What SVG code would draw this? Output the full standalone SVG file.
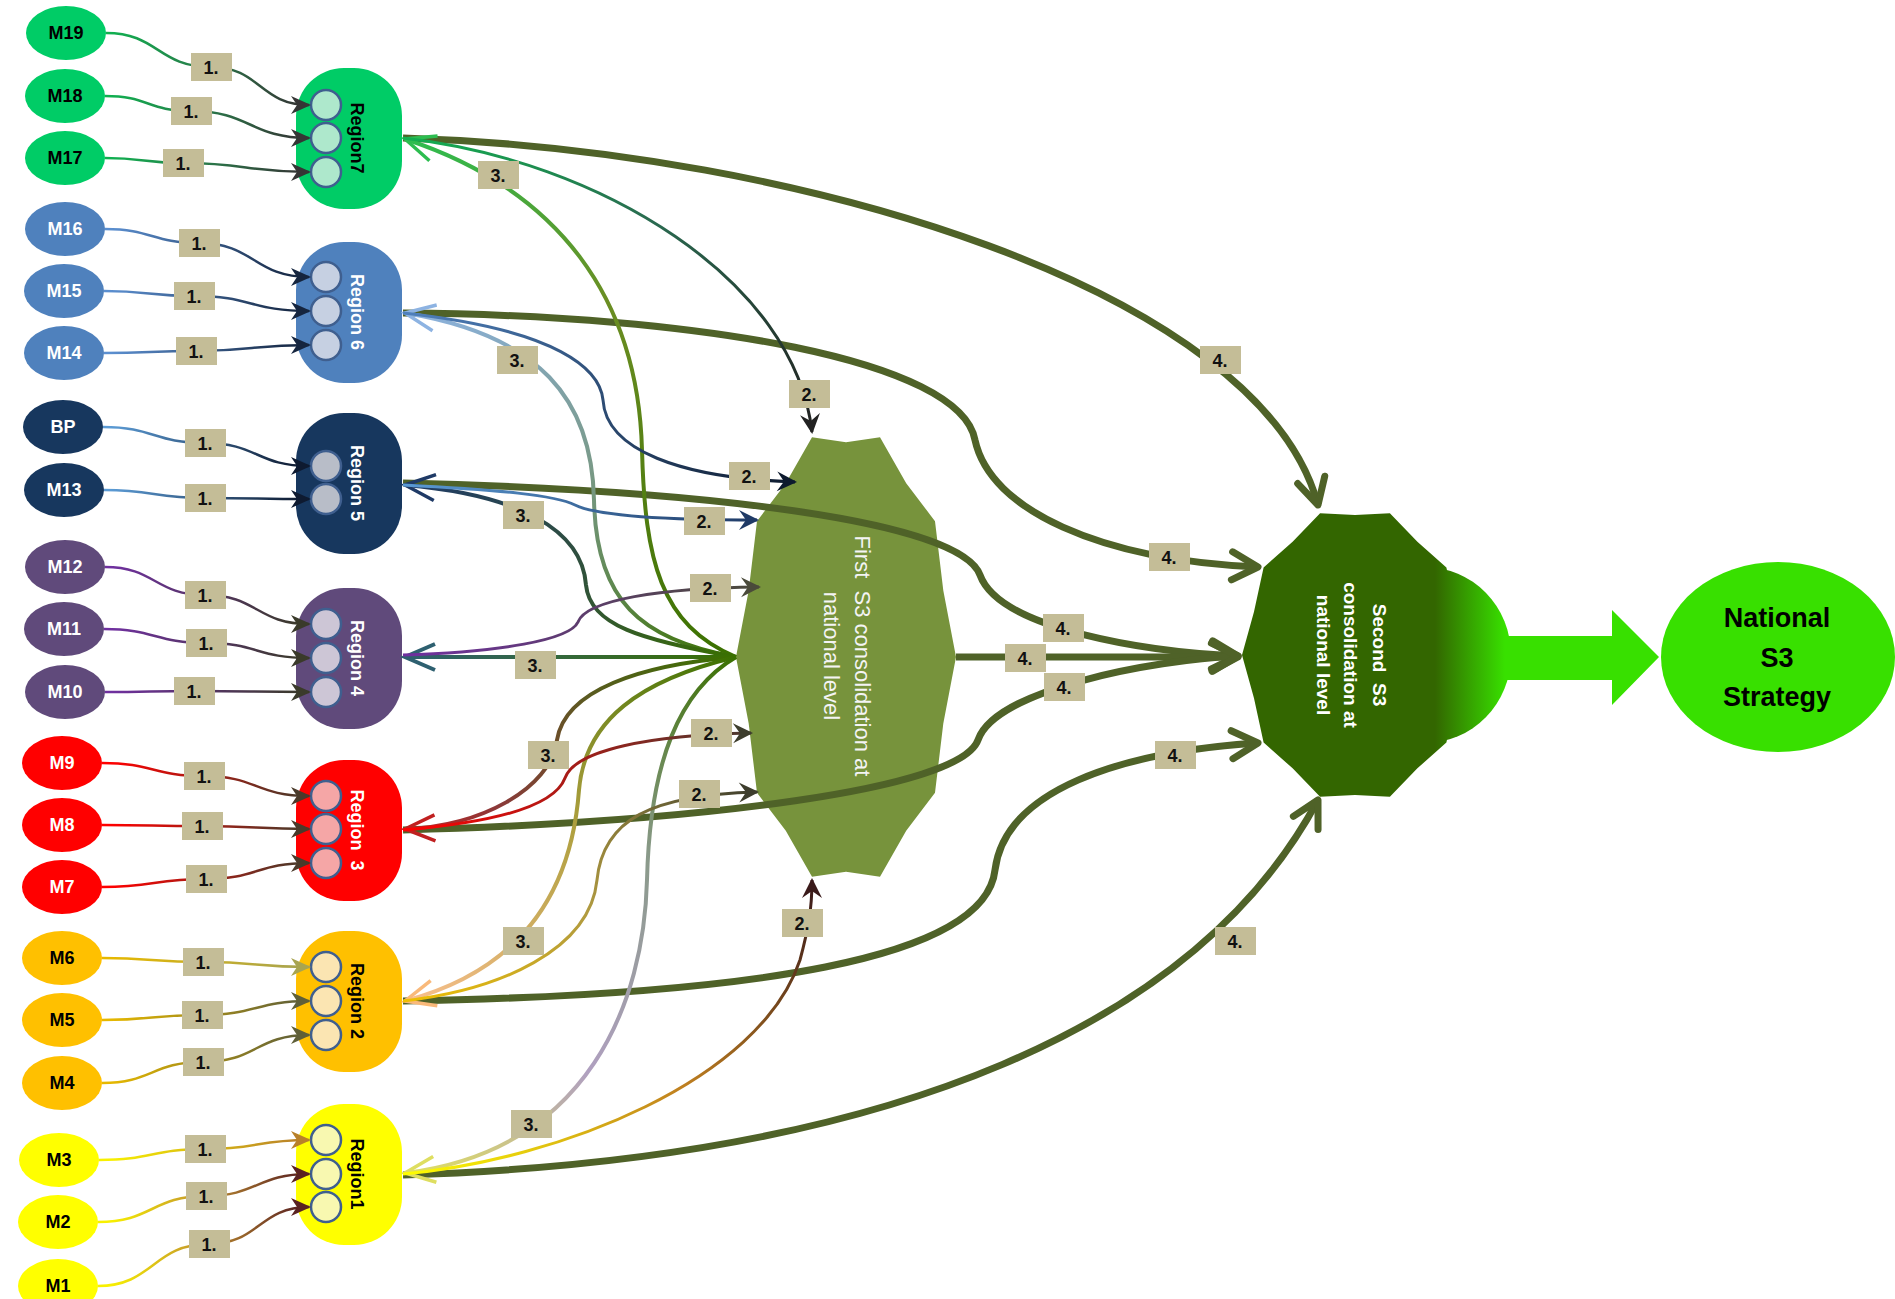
<svg xmlns="http://www.w3.org/2000/svg" width="1895" height="1299" viewBox="0 0 1895 1299">
<defs>
<style>
.mn text{font-family:"Liberation Sans",Arial,sans-serif;font-weight:bold;font-size:18px;text-anchor:middle}
.rg text{font-family:"Liberation Sans",Arial,sans-serif;font-weight:bold;font-size:18px;text-anchor:middle}
.rg circle{stroke:#3f5f8f;stroke-width:2.5}
.lb rect{fill:#c4bd97}
.lb text{font-family:"Liberation Sans",Arial,sans-serif;font-weight:bold;font-size:18px;text-anchor:middle;fill:#111}
.c1{fill:none;stroke-width:2.5}
.c2{fill:none;stroke-width:3}
.c3{fill:none;stroke-width:4}
.c4{fill:none;stroke:#4f6228;stroke-width:7;marker-end:url(#a4)}
</style>
<marker id="a4" markerUnits="userSpaceOnUse" markerWidth="1" markerHeight="1" orient="auto" overflow="visible"><path d="M-26,-14 L0,0 L-26,14" fill="none" stroke="#4f6228" stroke-width="7" stroke-linecap="round" stroke-linejoin="round"/></marker>
<marker id="s7" markerUnits="userSpaceOnUse" markerWidth="1" markerHeight="1" orient="auto" overflow="visible"><path d="M2,0 L-18,-9 L-12,0 L-18,9 Z" fill="#353535"/></marker>
<marker id="s6" markerUnits="userSpaceOnUse" markerWidth="1" markerHeight="1" orient="auto" overflow="visible"><path d="M2,0 L-18,-9 L-12,0 L-18,9 Z" fill="#15253f"/></marker>
<marker id="s5" markerUnits="userSpaceOnUse" markerWidth="1" markerHeight="1" orient="auto" overflow="visible"><path d="M2,0 L-18,-9 L-12,0 L-18,9 Z" fill="#0e1a30"/></marker>
<marker id="s4" markerUnits="userSpaceOnUse" markerWidth="1" markerHeight="1" orient="auto" overflow="visible"><path d="M2,0 L-18,-9 L-12,0 L-18,9 Z" fill="#3a3a2a"/></marker>
<marker id="s3" markerUnits="userSpaceOnUse" markerWidth="1" markerHeight="1" orient="auto" overflow="visible"><path d="M2,0 L-18,-9 L-12,0 L-18,9 Z" fill="#4a3a2a"/></marker>
<marker id="s2" markerUnits="userSpaceOnUse" markerWidth="1" markerHeight="1" orient="auto" overflow="visible"><path d="M2,0 L-18,-9 L-12,0 L-18,9 Z" fill="#5f5f38"/></marker>
<marker id="s2b" markerUnits="userSpaceOnUse" markerWidth="1" markerHeight="1" orient="auto" overflow="visible"><path d="M2,0 L-18,-9 L-12,0 L-18,9 Z" fill="#a8a450"/></marker>
<marker id="s1" markerUnits="userSpaceOnUse" markerWidth="1" markerHeight="1" orient="auto" overflow="visible"><path d="M2,0 L-18,-9 L-12,0 L-18,9 Z" fill="#5a2222"/></marker>
<marker id="s1b" markerUnits="userSpaceOnUse" markerWidth="1" markerHeight="1" orient="auto" overflow="visible"><path d="M2,0 L-18,-9 L-12,0 L-18,9 Z" fill="#b8802a"/></marker>
<marker id="t7" markerUnits="userSpaceOnUse" markerWidth="1" markerHeight="1" orient="auto" overflow="visible"><path d="M2,0 L-18,-10 L-11,0 L-18,10 Z" fill="#222"/></marker>
<marker id="t6" markerUnits="userSpaceOnUse" markerWidth="1" markerHeight="1" orient="auto" overflow="visible"><path d="M2,0 L-18,-10 L-11,0 L-18,10 Z" fill="#0d1a2e"/></marker>
<marker id="t5" markerUnits="userSpaceOnUse" markerWidth="1" markerHeight="1" orient="auto" overflow="visible"><path d="M2,0 L-18,-10 L-11,0 L-18,10 Z" fill="#1f3a66"/></marker>
<marker id="t4" markerUnits="userSpaceOnUse" markerWidth="1" markerHeight="1" orient="auto" overflow="visible"><path d="M2,0 L-18,-10 L-11,0 L-18,10 Z" fill="#4a4a3a"/></marker>
<marker id="t3" markerUnits="userSpaceOnUse" markerWidth="1" markerHeight="1" orient="auto" overflow="visible"><path d="M2,0 L-18,-10 L-11,0 L-18,10 Z" fill="#3d3d2d"/></marker>
<marker id="t1" markerUnits="userSpaceOnUse" markerWidth="1" markerHeight="1" orient="auto" overflow="visible"><path d="M2,0 L-18,-10 L-11,0 L-18,10 Z" fill="#3a1a1a"/></marker>
<marker id="v7" markerUnits="userSpaceOnUse" markerWidth="1" markerHeight="1" orient="auto" overflow="visible"><path d="M-30,-13 L0,0 L-30,13" fill="none" stroke="#2dbd50" stroke-width="3.5"/></marker>
<marker id="v6" markerUnits="userSpaceOnUse" markerWidth="1" markerHeight="1" orient="auto" overflow="visible"><path d="M-30,-13 L0,0 L-30,13" fill="none" stroke="#8db3e2" stroke-width="3.5"/></marker>
<marker id="v5" markerUnits="userSpaceOnUse" markerWidth="1" markerHeight="1" orient="auto" overflow="visible"><path d="M-30,-13 L0,0 L-30,13" fill="none" stroke="#1f3a66" stroke-width="3.5"/></marker>
<marker id="v4" markerUnits="userSpaceOnUse" markerWidth="1" markerHeight="1" orient="auto" overflow="visible"><path d="M-30,-13 L0,0 L-30,13" fill="none" stroke="#2e6070" stroke-width="4"/></marker>
<marker id="v3" markerUnits="userSpaceOnUse" markerWidth="1" markerHeight="1" orient="auto" overflow="visible"><path d="M-30,-13 L0,0 L-30,13" fill="none" stroke="#c02020" stroke-width="3.5"/></marker>
<marker id="v2" markerUnits="userSpaceOnUse" markerWidth="1" markerHeight="1" orient="auto" overflow="visible"><path d="M-30,-13 L0,0 L-30,13" fill="none" stroke="#f9b97a" stroke-width="3.5"/></marker>
<marker id="v1" markerUnits="userSpaceOnUse" markerWidth="1" markerHeight="1" orient="auto" overflow="visible"><path d="M-30,-13 L0,0 L-30,13" fill="none" stroke="#dede60" stroke-width="3.5"/></marker>

<linearGradient id="g1_7" gradientUnits="userSpaceOnUse" x1="110" y1="0" x2="300" y2="0"><stop offset="0" stop-color="#10b050"/><stop offset="0.5" stop-color="#2a7a4a"/><stop offset="1" stop-color="#353535"/></linearGradient>
<linearGradient id="g1_6" gradientUnits="userSpaceOnUse" x1="110" y1="0" x2="300" y2="0"><stop offset="0" stop-color="#5b8fd0"/><stop offset="1" stop-color="#15253f"/></linearGradient>
<linearGradient id="g1_5" gradientUnits="userSpaceOnUse" x1="110" y1="0" x2="300" y2="0"><stop offset="0" stop-color="#5b9bd5"/><stop offset="1" stop-color="#0e1a30"/></linearGradient>
<linearGradient id="g1_4" gradientUnits="userSpaceOnUse" x1="110" y1="0" x2="300" y2="0"><stop offset="0" stop-color="#7030a0"/><stop offset="1" stop-color="#3a3a2a"/></linearGradient>
<linearGradient id="g1_3" gradientUnits="userSpaceOnUse" x1="110" y1="0" x2="300" y2="0"><stop offset="0" stop-color="#ff0000"/><stop offset="1" stop-color="#4a3a2a"/></linearGradient>
<linearGradient id="g1_2" gradientUnits="userSpaceOnUse" x1="110" y1="0" x2="300" y2="0"><stop offset="0" stop-color="#e6b800"/><stop offset="1" stop-color="#5f5f38"/></linearGradient>
<linearGradient id="g1_2b" gradientUnits="userSpaceOnUse" x1="110" y1="0" x2="300" y2="0"><stop offset="0" stop-color="#e6b800"/><stop offset="1" stop-color="#a8a450"/></linearGradient>
<linearGradient id="g1_1" gradientUnits="userSpaceOnUse" x1="110" y1="0" x2="300" y2="0"><stop offset="0" stop-color="#f8f000"/><stop offset="0.5" stop-color="#c09030"/><stop offset="1" stop-color="#5a2222"/></linearGradient>
<linearGradient id="g1_1b" gradientUnits="userSpaceOnUse" x1="110" y1="0" x2="300" y2="0"><stop offset="0" stop-color="#f8f000"/><stop offset="1" stop-color="#b8802a"/></linearGradient>

<linearGradient id="g2_7" gradientUnits="userSpaceOnUse" x1="403" y1="138" x2="812" y2="433"><stop offset="0" stop-color="#12b050"/><stop offset="0.5" stop-color="#2a6a50"/><stop offset="1" stop-color="#222"/></linearGradient>
<linearGradient id="g2_6" gradientUnits="userSpaceOnUse" x1="403" y1="313" x2="795" y2="482"><stop offset="0" stop-color="#4f81bd"/><stop offset="1" stop-color="#0d1a2e"/></linearGradient>
<linearGradient id="g2_5" gradientUnits="userSpaceOnUse" x1="403" y1="485" x2="757" y2="520"><stop offset="0" stop-color="#5b9bd5"/><stop offset="1" stop-color="#1f3a66"/></linearGradient>
<linearGradient id="g2_4" gradientUnits="userSpaceOnUse" x1="403" y1="655" x2="759" y2="587"><stop offset="0" stop-color="#7030a0"/><stop offset="1" stop-color="#4a4a3a"/></linearGradient>
<linearGradient id="g2_3" gradientUnits="userSpaceOnUse" x1="403" y1="830" x2="751" y2="733"><stop offset="0" stop-color="#ff0000"/><stop offset="1" stop-color="#4a3a30"/></linearGradient>
<linearGradient id="g2_2" gradientUnits="userSpaceOnUse" x1="403" y1="1001" x2="757" y2="792"><stop offset="0" stop-color="#f0c000"/><stop offset="0.5" stop-color="#b09a40"/><stop offset="1" stop-color="#3d3d2d"/></linearGradient>
<linearGradient id="g2_1" gradientUnits="userSpaceOnUse" x1="403" y1="1174" x2="812" y2="880"><stop offset="0" stop-color="#ffff00"/><stop offset="0.55" stop-color="#c08020"/><stop offset="1" stop-color="#3a1a1a"/></linearGradient>

<linearGradient id="g3_7" gradientUnits="userSpaceOnUse" x1="736" y1="657" x2="405" y2="139"><stop offset="0" stop-color="#3a7000"/><stop offset="0.6" stop-color="#6b8e23"/><stop offset="1" stop-color="#2dbd50"/></linearGradient>
<linearGradient id="g3_6" gradientUnits="userSpaceOnUse" x1="736" y1="657" x2="405" y2="313"><stop offset="0" stop-color="#3a7000"/><stop offset="0.5" stop-color="#7a9a8a"/><stop offset="1" stop-color="#8db3e2"/></linearGradient>
<linearGradient id="g3_5" gradientUnits="userSpaceOnUse" x1="736" y1="657" x2="405" y2="485"><stop offset="0" stop-color="#3a7000"/><stop offset="0.5" stop-color="#2f4f3f"/><stop offset="1" stop-color="#1f3a66"/></linearGradient>
<linearGradient id="g3_4" gradientUnits="userSpaceOnUse" x1="736" y1="657" x2="405" y2="657"><stop offset="0" stop-color="#3a7000"/><stop offset="1" stop-color="#2e6070"/></linearGradient>
<linearGradient id="g3_3" gradientUnits="userSpaceOnUse" x1="736" y1="657" x2="405" y2="829"><stop offset="0" stop-color="#3a7000"/><stop offset="0.4" stop-color="#5a5a20"/><stop offset="0.75" stop-color="#8b3a3a"/><stop offset="1" stop-color="#c02020"/></linearGradient>
<linearGradient id="g3_2" gradientUnits="userSpaceOnUse" x1="736" y1="657" x2="405" y2="1001"><stop offset="0" stop-color="#3a7000"/><stop offset="0.5" stop-color="#b0a040"/><stop offset="1" stop-color="#fac08f"/></linearGradient>
<linearGradient id="g3_1" gradientUnits="userSpaceOnUse" x1="736" y1="657" x2="405" y2="1173"><stop offset="0" stop-color="#3a7000"/><stop offset="0.35" stop-color="#8a9a8a"/><stop offset="0.7" stop-color="#b0a0c0"/><stop offset="1" stop-color="#e0e060"/></linearGradient>

<linearGradient id="g2nd" gradientUnits="userSpaceOnUse" x1="1435" y1="0" x2="1505" y2="0"><stop offset="0" stop-color="#336600"/><stop offset="1" stop-color="#38e000"/></linearGradient>
</defs>

<rect width="1895" height="1299" fill="#fff"/>

<g id="national-s3-strategy">
<ellipse cx="1778" cy="657" rx="117" ry="95" fill="#38e000"/>
<text x="1777" y="627" font-family="Liberation Sans, Arial, sans-serif" font-weight="bold" font-size="27" text-anchor="middle" fill="#000">National</text>
<text x="1777" y="667" font-family="Liberation Sans, Arial, sans-serif" font-weight="bold" font-size="27" text-anchor="middle" fill="#000">S3</text>
<text x="1777" y="706" font-family="Liberation Sans, Arial, sans-serif" font-weight="bold" font-size="27" text-anchor="middle" fill="#000">Strategy</text>
</g>

<g id="block-arrow">
<polygon points="1480,636 1612,636 1612,610 1659,657 1612,705 1612,680 1480,680" fill="#38e000"/>
</g>

<g id="second-consolidation">
<ellipse cx="1425" cy="655" rx="86" ry="88" fill="url(#g2nd)"/>
<polygon fill="url(#g2nd)" points="1355,514.9 1389.9,513.3 1417.4,541.7 1446.4,567.4 1456,611.7 1468,655 1456,698.3 1446.4,742.6 1417.4,768.3 1389.9,796.7 1355,795.1 1320.1,796.7 1292.6,768.3 1263.6,742.6 1254,698.3 1242,655 1254,611.7 1263.6,567.4 1292.6,541.7 1320.1,513.3"/>
<text transform="translate(1352,655) rotate(90)" xml:space="preserve" font-family="Liberation Sans, Arial, sans-serif" font-weight="bold" font-size="19" text-anchor="middle" fill="#fff"><tspan x="0" y="-21">Second  S3</tspan><tspan x="0" y="8">consolidation at</tspan><tspan x="0" y="35">national level</tspan></text>
</g>

<g id="first-consolidation">
<polygon fill="#77933c" points="846,442.2 880,437.3 906.2,483.2 935,521.2 943.3,590.6 956,657 943.3,723.4 935,792.8 906.2,830.8 880,876.7 846,871.8 812,876.7 785.8,830.8 757,792.8 748.7,723.4 736,657 748.7,590.6 757,521.2 785.8,483.2 812,437.3"/>
<text transform="translate(847,656) rotate(90)" xml:space="preserve" font-family="Liberation Sans, Arial, sans-serif" font-size="22" text-anchor="middle" fill="#f4f4f4"><tspan x="0" y="-8">First  S3 consolidation at</tspan><tspan x="0" y="23">national level</tspan></text>
</g>

<g id="region-7" class="rg"><rect x="296" y="68" width="106" height="141" rx="48" fill="#00cc66"/><circle cx="326" cy="105" r="15" fill="#aee8cc"/><circle cx="326" cy="138" r="15" fill="#aee8cc"/><circle cx="326" cy="172" r="15" fill="#aee8cc"/><text transform="translate(357,138) rotate(90)" y="6" fill="#000">Region7</text></g>
<g id="region-6" class="rg"><rect x="296" y="242" width="106" height="141" rx="48" fill="#4f81bd"/><circle cx="326" cy="277" r="15" fill="#c6d0e2"/><circle cx="326" cy="311" r="15" fill="#c6d0e2"/><circle cx="326" cy="345" r="15" fill="#c6d0e2"/><text transform="translate(357,312) rotate(90)" y="6" fill="#fff">Region 6</text></g>
<g id="region-5" class="rg"><rect x="296" y="413" width="106" height="141" rx="48" fill="#17375e"/><circle cx="326" cy="466" r="15" fill="#b8bdc8" stroke="#4a6a9a"/><circle cx="326" cy="499" r="15" fill="#b8bdc8" stroke="#4a6a9a"/><text transform="translate(357,483) rotate(90)" y="6" fill="#fff">Region 5</text></g>
<g id="region-4" class="rg"><rect x="296" y="588" width="106" height="141" rx="48" fill="#604a7b"/><circle cx="326" cy="624" r="15" fill="#cdc6d6"/><circle cx="326" cy="658" r="15" fill="#cdc6d6"/><circle cx="326" cy="692" r="15" fill="#cdc6d6"/><text transform="translate(357,658) rotate(90)" y="6" fill="#fff">Region 4</text></g>
<g id="region-3" class="rg"><rect x="296" y="760" width="106" height="141" rx="48" fill="#ff0000"/><circle cx="326" cy="796" r="15" fill="#f5a6a6"/><circle cx="326" cy="829" r="15" fill="#f5a6a6"/><circle cx="326" cy="863" r="15" fill="#f5a6a6"/><text transform="translate(357,830) rotate(90)" y="6" fill="#fff" xml:space="preserve">Region  3</text></g>
<g id="region-2" class="rg"><rect x="296" y="931" width="106" height="141" rx="48" fill="#ffc000"/><circle cx="326" cy="967" r="15" fill="#fbe5b2"/><circle cx="326" cy="1001" r="15" fill="#fbe5b2"/><circle cx="326" cy="1035" r="15" fill="#fbe5b2"/><text transform="translate(357,1001) rotate(90)" y="6" fill="#000">Region 2</text></g>
<g id="region-1" class="rg"><rect x="296" y="1104" width="106" height="141" rx="48" fill="#ffff00"/><circle cx="326" cy="1140" r="15" fill="#f8f8b0"/><circle cx="326" cy="1174" r="15" fill="#f8f8b0"/><circle cx="326" cy="1207" r="15" fill="#f8f8b0"/><text transform="translate(357,1174) rotate(90)" y="6" fill="#000">Region1</text></g>

<g id="m19" class="mn"><ellipse cx="66" cy="33" rx="40" ry="27" fill="#00cc66"/><text x="66" y="39" fill="#000">M19</text></g>
<g id="m18" class="mn"><ellipse cx="65" cy="96" rx="40" ry="27" fill="#00cc66"/><text x="65" y="102" fill="#000">M18</text></g>
<g id="m17" class="mn"><ellipse cx="65" cy="158" rx="40" ry="27" fill="#00cc66"/><text x="65" y="164" fill="#000">M17</text></g>
<g id="m16" class="mn"><ellipse cx="65" cy="229" rx="40" ry="27" fill="#4f81bd"/><text x="65" y="235" fill="#fff">M16</text></g>
<g id="m15" class="mn"><ellipse cx="64" cy="291" rx="40" ry="27" fill="#4f81bd"/><text x="64" y="297" fill="#fff">M15</text></g>
<g id="m14" class="mn"><ellipse cx="64" cy="353" rx="40" ry="27" fill="#4f81bd"/><text x="64" y="359" fill="#fff">M14</text></g>
<g id="bp" class="mn"><ellipse cx="63" cy="427" rx="40" ry="27" fill="#17375e"/><text x="63" y="433" fill="#fff">BP</text></g>
<g id="m13" class="mn"><ellipse cx="64" cy="490" rx="40" ry="27" fill="#17375e"/><text x="64" y="496" fill="#fff">M13</text></g>
<g id="m12" class="mn"><ellipse cx="65" cy="567" rx="40" ry="27" fill="#604a7b"/><text x="65" y="573" fill="#fff">M12</text></g>
<g id="m11" class="mn"><ellipse cx="64" cy="629" rx="40" ry="27" fill="#604a7b"/><text x="64" y="635" fill="#fff">M11</text></g>
<g id="m10" class="mn"><ellipse cx="65" cy="692" rx="40" ry="27" fill="#604a7b"/><text x="65" y="698" fill="#fff">M10</text></g>
<g id="m9" class="mn"><ellipse cx="62" cy="763" rx="40" ry="27" fill="#ff0000"/><text x="62" y="769" fill="#fff">M9</text></g>
<g id="m8" class="mn"><ellipse cx="62" cy="825" rx="40" ry="27" fill="#ff0000"/><text x="62" y="831" fill="#fff">M8</text></g>
<g id="m7" class="mn"><ellipse cx="62" cy="887" rx="40" ry="27" fill="#ff0000"/><text x="62" y="893" fill="#fff">M7</text></g>
<g id="m6" class="mn"><ellipse cx="62" cy="958" rx="40" ry="27" fill="#ffc000"/><text x="62" y="964" fill="#000">M6</text></g>
<g id="m5" class="mn"><ellipse cx="62" cy="1020" rx="40" ry="27" fill="#ffc000"/><text x="62" y="1026" fill="#000">M5</text></g>
<g id="m4" class="mn"><ellipse cx="62" cy="1083" rx="40" ry="27" fill="#ffc000"/><text x="62" y="1089" fill="#000">M4</text></g>
<g id="m3" class="mn"><ellipse cx="59" cy="1160" rx="40" ry="27" fill="#ffff00"/><text x="59" y="1166" fill="#000">M3</text></g>
<g id="m2" class="mn"><ellipse cx="58" cy="1222" rx="40" ry="27" fill="#ffff00"/><text x="58" y="1228" fill="#000">M2</text></g>
<g id="m1" class="mn"><ellipse cx="58" cy="1286" rx="40" ry="27" fill="#ffff00"/><text x="58" y="1292" fill="#000">M1</text></g>

<g id="connectors">
<path class="c1" stroke="url(#g1_7)" marker-end="url(#s7)" d="M106,33 C158,33 158,67 211,67 C260,67 260,105 309,105"/>
<path class="c1" stroke="url(#g1_7)" marker-end="url(#s7)" d="M105,96 C148,96 148,111 191,111 C250,111 250,138 309,138"/>
<path class="c1" stroke="url(#g1_7)" marker-end="url(#s7)" d="M105,158 C144,158 144,163 183,163 C246,163 246,172 309,172"/>
<path class="c1" stroke="url(#g1_6)" marker-end="url(#s6)" d="M105,229 C152,229 152,243 199,243 C254,243 254,277 309,277"/>
<path class="c1" stroke="url(#g1_6)" marker-end="url(#s6)" d="M104,291 C149,291 149,296 194,296 C251,296 251,311 309,311"/>
<path class="c1" stroke="url(#g1_6)" marker-end="url(#s6)" d="M104,353 C150,353 150,351 196,351 C252,351 252,345 309,345"/>
<path class="c1" stroke="url(#g1_5)" marker-end="url(#s5)" d="M103,427 C154,427 154,443 205,443 C257,443 257,466 309,466"/>
<path class="c1" stroke="url(#g1_5)" marker-end="url(#s5)" d="M104,490 C154,490 154,498 205,498 C257,498 257,499 309,499"/>
<path class="c1" stroke="url(#g1_4)" marker-end="url(#s4)" d="M105,567 C155,567 155,595 205,595 C257,595 257,624 309,624"/>
<path class="c1" stroke="url(#g1_4)" marker-end="url(#s4)" d="M104,629 C155,629 155,643 206,643 C257,643 257,658 309,658"/>
<path class="c1" stroke="url(#g1_4)" marker-end="url(#s4)" d="M105,692 C150,692 150,691 194,691 C251,691 251,692 309,692"/>
<path class="c1" stroke="url(#g1_3)" marker-end="url(#s3)" d="M102,763 C153,763 153,776 204,776 C256,776 256,796 309,796"/>
<path class="c1" stroke="url(#g1_3)" marker-end="url(#s3)" d="M102,825 C152,825 152,826 202,826 C256,826 256,829 309,829"/>
<path class="c1" stroke="url(#g1_3)" marker-end="url(#s3)" d="M102,887 C154,887 154,879 206,879 C257,879 257,863 309,863"/>
<path class="c1" stroke="url(#g1_2b)" marker-end="url(#s2b)" d="M102,958 C152,958 152,962 203,962 C256,962 256,967 309,967"/>
<path class="c1" stroke="url(#g1_2)" marker-end="url(#s2)" d="M102,1020 C152,1020 152,1015 202,1015 C256,1015 256,1001 309,1001"/>
<path class="c1" stroke="url(#g1_2)" marker-end="url(#s2)" d="M102,1083 C152,1083 152,1062 203,1062 C256,1062 256,1035 309,1035"/>
<path class="c1" stroke="url(#g1_1b)" marker-end="url(#s1b)" d="M99,1160 C152,1160 152,1149 205,1149 C257,1149 257,1140 309,1140"/>
<path class="c1" stroke="url(#g1_1)" marker-end="url(#s1)" d="M98,1222 C152,1222 152,1196 206,1196 C257,1196 257,1174 309,1174"/>
<path class="c1" stroke="url(#g1_1)" marker-end="url(#s1)" d="M98,1286 C153,1286 153,1244 209,1244 C259,1244 259,1207 309,1207"/>

<path class="c4" d="M403,138 C800,150 1260,290 1318,505"/>
<path class="c4" d="M403,313 C700,315 960,360 975,440 C990,510 1100,560 1258,567"/>
<path class="c4" d="M403,483 C700,490 960,520 980,575 C1000,630 1150,652 1238,656"/>
<path class="c4" d="M956,657 L1238,657"/>
<path class="c4" d="M403,830 C700,822 960,790 978,740 C995,690 1150,660 1238,656"/>
<path class="c4" d="M403,1001 C750,995 985,960 995,870 C1005,790 1120,752 1258,743"/>
<path class="c4" d="M403,1175 C900,1160 1200,1020 1318,800"/>

<path class="c3" stroke="url(#g3_7)" marker-end="url(#v7)" d="M736,657 C660,625 645,560 642,450 C638,300 560,190 405,139"/>
<path class="c3" stroke="url(#g3_6)" marker-end="url(#v6)" d="M736,657 C640,640 596,600 594,500 C592,400 540,335 405,313"/>
<path class="c3" stroke="url(#g3_5)" marker-end="url(#v5)" d="M736,657 C640,640 590,625 586,585 C582,530 520,495 405,485"/>
<path class="c3" stroke="url(#g3_4)" marker-end="url(#v4)" stroke-width="6" d="M736,657 L405,657"/>
<path class="c3" stroke="url(#g3_3)" marker-end="url(#v3)" d="M736,657 C640,665 565,690 557,740 C550,790 480,826 405,829"/>
<path class="c3" stroke="url(#g3_2)" marker-end="url(#v2)" d="M736,657 C640,680 585,720 579,790 C573,870 540,965 405,1001"/>
<path class="c3" stroke="url(#g3_1)" marker-end="url(#v1)" d="M736,657 C680,690 650,760 647,880 C644,1000 590,1150 405,1173"/>

<path class="c2" stroke="url(#g2_7)" marker-end="url(#t7)" d="M403,138 C600,160 795,280 812,432"/>
<path class="c2" stroke="url(#g2_6)" marker-end="url(#t6)" d="M403,313 C560,330 600,370 603,400 C606,450 680,478 795,482"/>
<path class="c2" stroke="url(#g2_5)" marker-end="url(#t5)" d="M403,485 C500,490 555,495 575,505 C600,517 680,520 757,520"/>
<path class="c2" stroke="url(#g2_4)" marker-end="url(#t4)" d="M403,655 C500,652 570,640 578,622 C586,600 660,588 759,587"/>
<path class="c2" stroke="url(#g2_3)" marker-end="url(#t3)" d="M403,830 C500,822 555,805 565,778 C575,750 650,735 751,733"/>
<path class="c2" stroke="url(#g2_2)" marker-end="url(#t3)" d="M403,1001 C500,990 590,950 597,880 C603,820 650,795 757,792"/>
<path class="c2" stroke="url(#g2_1)" marker-end="url(#t1)" d="M403,1174 C560,1160 760,1080 800,960 C808,930 812,910 812,880"/>

<g class="lb">
<rect x="191" y="53" width="41" height="28"/><text x="211" y="74">1.</text>
<rect x="171" y="97" width="41" height="28"/><text x="191" y="118">1.</text>
<rect x="163" y="149" width="41" height="28"/><text x="183" y="170">1.</text>
<rect x="179" y="229" width="41" height="28"/><text x="199" y="250">1.</text>
<rect x="174" y="282" width="41" height="28"/><text x="194" y="303">1.</text>
<rect x="176" y="337" width="41" height="28"/><text x="196" y="358">1.</text>
<rect x="185" y="429" width="41" height="28"/><text x="205" y="450">1.</text>
<rect x="185" y="484" width="41" height="28"/><text x="205" y="505">1.</text>
<rect x="185" y="581" width="41" height="28"/><text x="205" y="602">1.</text>
<rect x="186" y="629" width="41" height="28"/><text x="206" y="650">1.</text>
<rect x="174" y="677" width="41" height="28"/><text x="194" y="698">1.</text>
<rect x="184" y="762" width="41" height="28"/><text x="204" y="783">1.</text>
<rect x="182" y="812" width="41" height="28"/><text x="202" y="833">1.</text>
<rect x="186" y="865" width="41" height="28"/><text x="206" y="886">1.</text>
<rect x="183" y="948" width="41" height="28"/><text x="203" y="969">1.</text>
<rect x="182" y="1001" width="41" height="28"/><text x="202" y="1022">1.</text>
<rect x="183" y="1048" width="41" height="28"/><text x="203" y="1069">1.</text>
<rect x="185" y="1135" width="41" height="28"/><text x="205" y="1156">1.</text>
<rect x="186" y="1182" width="41" height="28"/><text x="206" y="1203">1.</text>
<rect x="189" y="1230" width="41" height="28"/><text x="209" y="1251">1.</text>

<rect x="789" y="380" width="41" height="28"/><text x="809" y="401">2.</text>
<rect x="729" y="462" width="41" height="28"/><text x="749" y="483">2.</text>
<rect x="684" y="507" width="41" height="28"/><text x="704" y="528">2.</text>
<rect x="690" y="574" width="41" height="28"/><text x="710" y="595">2.</text>
<rect x="691" y="719" width="41" height="28"/><text x="711" y="740">2.</text>
<rect x="679" y="780" width="41" height="28"/><text x="699" y="801">2.</text>
<rect x="782" y="909" width="41" height="28"/><text x="802" y="930">2.</text>

<rect x="478" y="161" width="41" height="28"/><text x="498" y="182">3.</text>
<rect x="497" y="346" width="41" height="28"/><text x="517" y="367">3.</text>
<rect x="503" y="501" width="41" height="28"/><text x="523" y="522">3.</text>
<rect x="515" y="651" width="41" height="28"/><text x="535" y="672">3.</text>
<rect x="528" y="741" width="41" height="28"/><text x="548" y="762">3.</text>
<rect x="503" y="927" width="41" height="28"/><text x="523" y="948">3.</text>
<rect x="511" y="1110" width="41" height="28"/><text x="531" y="1131">3.</text>

<rect x="1200" y="346" width="41" height="28"/><text x="1220" y="367">4.</text>
<rect x="1149" y="543" width="41" height="28"/><text x="1169" y="564">4.</text>
<rect x="1043" y="614" width="41" height="28"/><text x="1063" y="635">4.</text>
<rect x="1005" y="644" width="41" height="28"/><text x="1025" y="665">4.</text>
<rect x="1044" y="673" width="41" height="28"/><text x="1064" y="694">4.</text>
<rect x="1155" y="741" width="41" height="28"/><text x="1175" y="762">4.</text>
<rect x="1215" y="927" width="41" height="28"/><text x="1235" y="948">4.</text>
</g>
</g>
</svg>
